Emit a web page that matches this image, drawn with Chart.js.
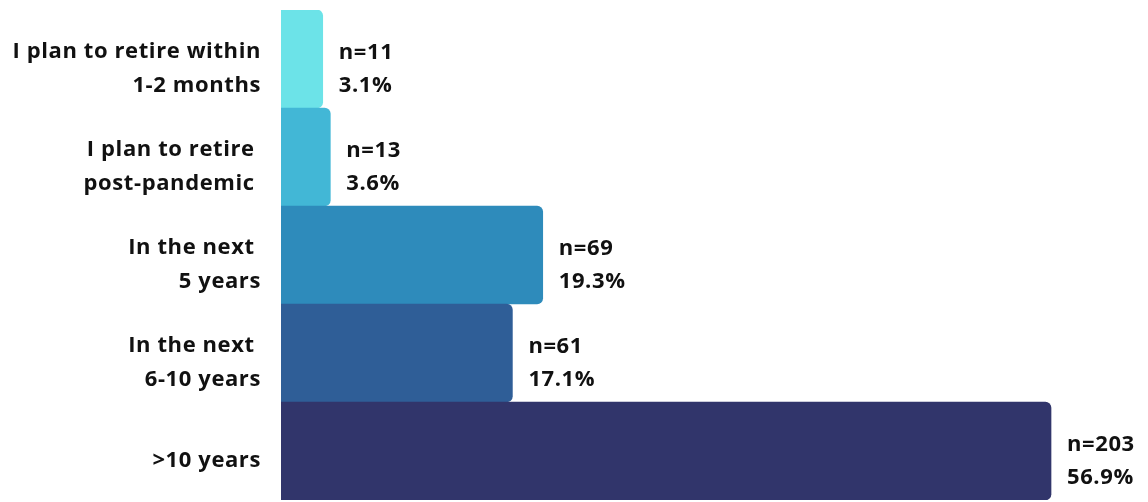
<!DOCTYPE html>
<html>
<head>
<meta charset="utf-8">
<script src="https://cdn.jsdelivr.net/npm/chart.js@4"></script>
<style>
  html, body { margin: 0; padding: 0; background: #fff; }
  #wrap { width: 1148px; height: 502px; }
</style>
</head>
<body>
<div id="wrap"><canvas id="grafico"></canvas></div>
<script>
const categorias = [
  ['I plan to retire within', '1-2 months'],
  ['I plan to retire ', 'post-pandemic '],
  ['In the next ', '5 years'],
  ['In the next ', '6-10 years'],
  '>10 years'
];
const respuestas = [11, 13, 69, 61, 203];
const porcentajes = ['3.1%', '3.6%', '19.3%', '17.1%', '56.9%'];
const colores = ['#6ce3e8', '#42b7d6', '#2e8bbb', '#2f5e97', '#31356b'];

const fuente = 'Open Sans';

// espaciado entre letras para parecerse a la fuente original
const espaciado = {
  id: 'espaciado',
  beforeDraw(chart) { chart.ctx.letterSpacing = '0.6px'; }
};

const etiquetasValor = {
  id: 'etiquetasValor',
  afterDatasetsDraw(chart) {
    const ctx = chart.ctx;
    const meta = chart.getDatasetMeta(0);
    ctx.save();
    ctx.font = 'bold 22px "' + fuente + '"';
    ctx.fillStyle = '#111';
    ctx.textAlign = 'left';
    ctx.textBaseline = 'middle';
    meta.data.forEach((bar, i) => {
      const x = bar.x + 16;
      const y = bar.y + 10;
      ctx.fillText('n=' + respuestas[i], x, y - 16);
      ctx.fillText(porcentajes[i], x, y + 17);
    });
    ctx.restore();
  }
};

const ctx = document.getElementById('grafico').getContext('2d');
const grafico = new Chart(ctx, {
  type: 'bar',
  data: {
    labels: categorias,
    datasets: [{
      data: respuestas,
      backgroundColor: colores,
      borderRadius: { topRight: 6, bottomRight: 6 },
      borderSkipped: 'start',
      barPercentage: 1,
      categoryPercentage: 1
    }]
  },
  options: {
    indexAxis: 'y',
    responsive: true,
    maintainAspectRatio: false,
    animation: false,
    layout: { padding: { top: 10, bottom: 2, left: 0, right: 32.5 } },
    plugins: { legend: { display: false }, tooltip: { enabled: false } },
    scales: {
      x: { display: false, min: 0, max: 220 },
      y: {
        grid: { display: false, drawTicks: false },
        border: { display: false },
        afterFit(scale) {
          scale.width = 281;
          scale.paddingTop = 0;
          scale.paddingBottom = 0;
        },
        ticks: {
          padding: 20,
          labelOffset: 10,
          color: '#111',
          font: { family: fuente, size: 22, weight: 'bold', lineHeight: 1.55 }
        }
      }
    }
  },
  plugins: [espaciado, etiquetasValor]
});
</script>
</body>
</html>
